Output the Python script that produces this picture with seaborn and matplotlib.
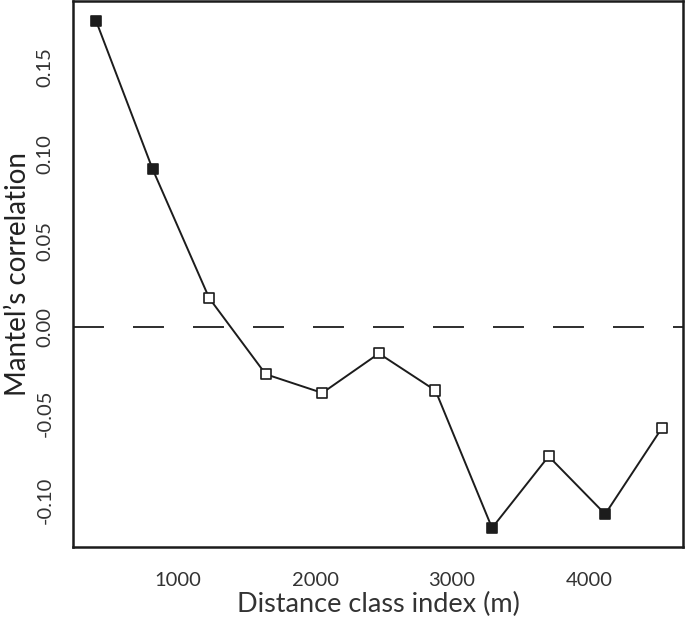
import matplotlib
matplotlib.use("Agg")
import matplotlib.pyplot as plt
import seaborn as sns
import pandas as pd

distance = [401, 814, 1227, 1640, 2053, 2466, 2879, 3292, 3705, 4118, 4531]
mantel_r = [0.177, 0.0913, 0.0168, -0.0272, -0.038, -0.0152, -0.0366, -0.116, -0.0746, -0.108, -0.0584]
significant = [True, True, False, False, False, False, False, True, False, True, False]
x_ticks = [1000, 2000, 3000, 4000]
y_ticks = [-0.10, -0.05, 0.00, 0.05, 0.10, 0.15]
y_tick_labels = ["-0.10", "-0.05", "0.00", "0.05", "0.10", "0.15"]

df = pd.DataFrame({"d": distance, "r": mantel_r, "sig": significant})

sns.set_style("white")
plt.rcParams["font.family"] = ["Lato", "DejaVu Sans"]
plt.rcParams["lines.scale_dashes"] = False

fig = plt.figure(figsize=(6.85, 6.22), dpi=100)
ax = fig.add_axes([73/685, 1 - 547/622, (683-73)/685, (547-1)/622])

ink = "#1c1c1c"
ax.axhline(0, color=ink, lw=1.3, linestyle=(0, (22.3, 20.9)), zorder=1)
sns.lineplot(data=df, x="d", y="r", ax=ax, color=ink, lw=1.4, zorder=2, legend=False)
fc = [ink if s else "white" for s in significant]
ax.scatter(df["d"], df["r"], marker="s", s=52, facecolors=fc, edgecolors=ink, linewidths=1.2, zorder=3)

ax.set_xlim(233, 4686)
ax.set_ylim(-0.127, 0.1884)
ax.set_xticks(x_ticks)
ax.set_xticklabels([str(t) for t in x_ticks])
ax.set_yticks(y_ticks)
ax.set_yticklabels(y_tick_labels, rotation=90, va="center")
ax.tick_params(axis="both", direction="out", length=8, width=1.3, color=ink, labelsize=14.5, labelcolor="#333333", pad=6)
ax.tick_params(axis="x", pad=10)
for sp in ax.spines.values():
    sp.set_color(ink)
    sp.set_linewidth(1.8)
ax.set_xlabel("Distance class index (m)", fontsize=19.5, color="#333333", labelpad=2)
ax.set_ylabel("Mantel\u2019s correlation", fontsize=20, color="#222222", labelpad=4)

fig.savefig("out.png", dpi=100)
